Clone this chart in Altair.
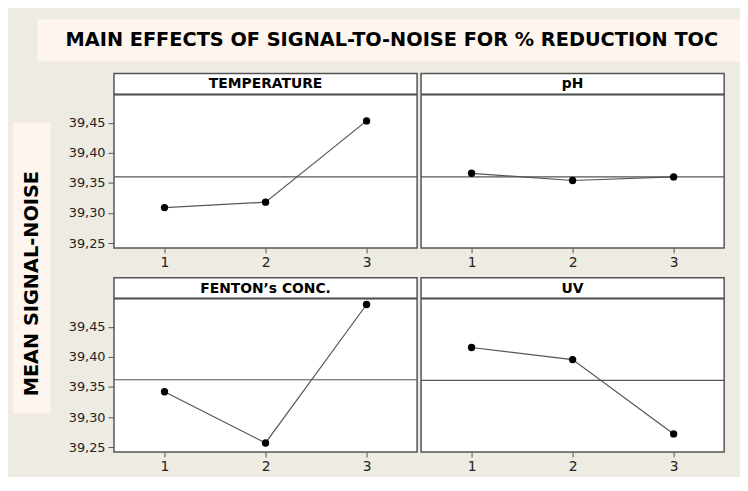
import altair as alt
import pandas as pd

# ---- data ----
factors = ["TEMPERATURE", "pH", "FENTON’s CONC.", "UV"]
levels = [1, 2, 3]
temperature = [39.309, 39.318, 39.453]
ph = [39.366, 39.354, 39.360]
fenton = [39.342, 39.257, 39.487]
uv = [39.4155, 39.3955, 39.272]
y_ticks = [39.25, 39.30, 39.35, 39.40, 39.45]
x_ticks = [1, 2, 3]
title_text = "MAIN EFFECTS OF SIGNAL-TO-NOISE  FOR % REDUCTION  TOC"
y_title = "MEAN SIGNAL-NOISE"

FONT = "DejaVu Sans"
BG = "#EEEBE2"
BOX = "#FDF5EE"
GRAY = "#555555"
PW, PH, HH = 306, 176, 21
Y_DOMAIN = [39.242, 39.497]


def panel(name, values, show_y):
    df = pd.DataFrame({"level": levels, "sn": values, "f": [name] * len(levels)})
    base = alt.Chart(df)
    x = alt.X(
        "level:Q",
        scale=alt.Scale(domain=[0.5, 3.5], nice=False, zero=False),
        axis=alt.Axis(values=x_ticks, title=None, grid=False, domain=False,
                      tickColor=GRAY, tickSize=5, labelFontSize=14, labelFont=FONT,
                      labelColor="#222", labelPadding=3, format="d"),
    )
    if show_y:
        yaxis = alt.Axis(values=y_ticks, title=None, grid=False, domain=False,
                         tickColor=GRAY, tickSize=6, labelFontSize=13, labelFont=FONT,
                         labelColor="#222", labelPadding=3,
                         labelExpr="replace(format(datum.value, '.2f'), '.', ',')")
    else:
        yaxis = None
    # plot region sits below a header strip of HH pixels
    yscale = alt.Scale(domain=Y_DOMAIN, nice=False, zero=False, range=[PH, HH])
    rule = base.mark_rule(color=GRAY, strokeWidth=1.2).encode(
        y=alt.Y("mean(sn):Q", scale=yscale, axis=yaxis)
    )
    line = base.mark_line(color=GRAY, strokeWidth=1.2).encode(
        x=x, y=alt.Y("sn:Q", scale=yscale, axis=yaxis)
    )
    pts = base.mark_circle(color="black", size=55, opacity=1).encode(
        x=x, y=alt.Y("sn:Q", scale=yscale, axis=yaxis)
    )
    sep = base.mark_rule(color=GRAY, strokeWidth=1.5).encode(
        y=alt.value(HH), x=alt.value(0), x2=alt.value(PW)
    )
    head = base.transform_filter(alt.datum.level == 1).mark_text(
        font=FONT, fontSize=14, fontWeight="bold", color="black", baseline="middle"
    ).encode(text="f:N", y=alt.value(HH / 2 + 0.5), x=alt.value(PW / 2))
    return alt.layer(rule, line, pts, sep, head).properties(
        width=PW, height=PH,
        view=alt.ViewConfig(fill="white", stroke=GRAY, strokeWidth=1.5),
    )


row1 = alt.hconcat(panel(factors[0], temperature, True), panel(factors[1], ph, False), spacing=0)
row2 = alt.hconcat(panel(factors[2], fenton, True), panel(factors[3], uv, False), spacing=0)
grid = alt.vconcat(row1, row2, spacing=6)

vspacer = alt.Chart(pd.DataFrame({"t": [""]})).mark_text(opacity=0).encode(
    text="t:N"
).properties(width=38, height=49, view=alt.ViewConfig(stroke=None))
ylabel = alt.Chart(pd.DataFrame({"t": [y_title]})).mark_text(
    font=FONT, fontSize=19.5, fontWeight="bold", angle=270, color="black",
    baseline="middle", dx=-16
).encode(text="t:N").properties(
    width=38, height=294, view=alt.ViewConfig(fill=BOX, stroke=None)
)
ycol = alt.vconcat(vspacer, ylabel, spacing=0)

main_row = alt.hconcat(ycol, grid, spacing=17)

spacer = alt.Chart(pd.DataFrame({"t": [""]})).mark_text(opacity=0).encode(
    text="t:N"
).properties(width=25, height=43, view=alt.ViewConfig(stroke=None))

title = alt.Chart(pd.DataFrame({"t": [title_text]})).mark_text(
    font=FONT, fontSize=19.5, fontWeight="bold", color="black", baseline="middle", dx=3
).encode(text="t:N").properties(
    width=709, height=43, view=alt.ViewConfig(fill=BOX, stroke=None)
)
title_row = alt.hconcat(spacer, title, spacing=0)

chart = alt.vconcat(title_row, main_row, spacing=11).properties(
    background=BG,
    padding={"left": 5, "top": 9, "right": 0, "bottom": 0},
).configure_view(stroke=None)

chart.save("out.html", embed_options={"renderer": "svg", "actions": False})
